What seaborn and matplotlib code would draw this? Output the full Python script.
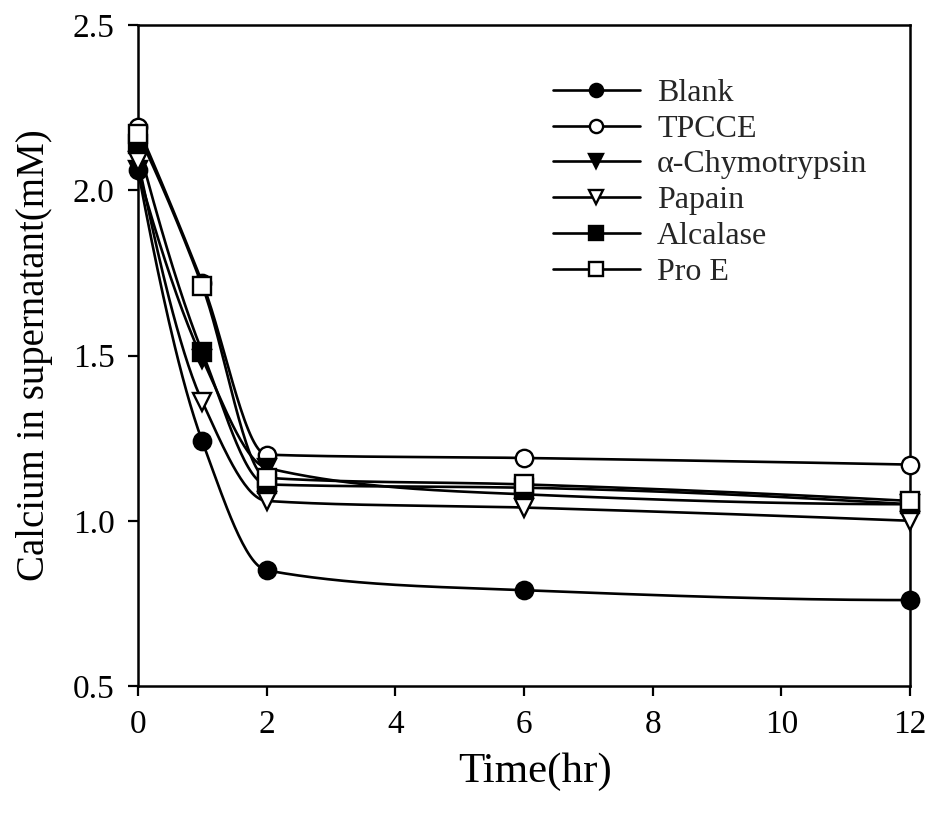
import numpy as np
import pandas as pd
import matplotlib
matplotlib.use("Agg")
import matplotlib.pyplot as plt
from matplotlib.lines import Line2D
import seaborn as sns

# Sampling times (hr)
time_hr = [0, 1, 2, 6, 12]

# Calcium remaining in supernatant (mM) for each treatment
blank = [2.06, 1.24, 0.85, 0.79, 0.76]
tpcce = [2.19, 1.72, 1.20, 1.19, 1.17]
chymotrypsin = [2.06, 1.49, 1.16, 1.08, 1.05]
papain = [2.09, 1.36, 1.06, 1.04, 1.00]
alcalase = [2.14, 1.51, 1.11, 1.10, 1.05]
pro_e = [2.17, 1.71, 1.13, 1.11, 1.06]

series_names = ["Blank", "TPCCE", "\u03b1-Chymotrypsin", "Papain", "Alcalase", "Pro E"]
series_values = [blank, tpcce, chymotrypsin, papain, alcalase, pro_e]
marker_shapes = ["o", "o", "v", "v", "s", "s"]
marker_filled = [True, False, True, False, True, False]

x_ticks = [0, 2, 4, 6, 8, 10, 12]
y_ticks = [0.5, 1.0, 1.5, 2.0, 2.5]


def smooth_curve(x, y, n=400):
    """Shape-preserving piecewise cubic (PCHIP) through (x, y) on a dense grid."""
    x = np.asarray(x, float)
    y = np.asarray(y, float)
    h = np.diff(x)
    delta = np.diff(y) / h
    k = len(x)
    d = np.zeros(k)
    for i in range(1, k - 1):
        if delta[i - 1] * delta[i] > 0:
            w1 = 2 * h[i] + h[i - 1]
            w2 = h[i] + 2 * h[i - 1]
            d[i] = (w1 + w2) / (w1 / delta[i - 1] + w2 / delta[i])
        else:
            d[i] = 0.0

    def end_slope(h0, h1, del0, del1):
        s = ((2 * h0 + h1) * del0 - h0 * del1) / (h0 + h1)
        if np.sign(s) != np.sign(del0):
            s = 0.0
        elif np.sign(del0) != np.sign(del1) and abs(s) > abs(3 * del0):
            s = 3 * del0
        return s

    d[0] = end_slope(h[0], h[1], delta[0], delta[1])
    d[-1] = end_slope(h[-1], h[-2], delta[-1], delta[-2])

    xs = np.linspace(x[0], x[-1], n)
    idx = np.clip(np.searchsorted(x, xs, side="right") - 1, 0, k - 2)
    t = (xs - x[idx]) / h[idx]
    h00 = 2 * t ** 3 - 3 * t ** 2 + 1
    h10 = t ** 3 - 2 * t ** 2 + t
    h01 = -2 * t ** 3 + 3 * t ** 2
    h11 = t ** 3 - t ** 2
    ys = (h00 * y[idx] + h10 * h[idx] * d[idx]
          + h01 * y[idx + 1] + h11 * h[idx] * d[idx + 1])
    return xs, ys


sns.set_theme(style="ticks")
plt.rcParams["font.family"] = ["Liberation Serif", "DejaVu Serif"]

fig = plt.figure(figsize=(9.3, 8.13), dpi=100)
ax = fig.add_axes([0.1484, 0.1562, 0.830, 0.813])

handles = []
for name, vals, mk, filled in zip(series_names, series_values, marker_shapes, marker_filled):
    xs, ys = smooth_curve(time_hr, vals)
    curve = pd.DataFrame({"t": xs, "c": ys})
    sns.lineplot(data=curve, x="t", y="c", ax=ax, color="black", linewidth=1.9,
                 estimator=None, sort=False, legend=False)
    pts = pd.DataFrame({"t": time_hr, "c": vals})
    face = "black" if filled else "white"
    ax.plot(pts["t"], pts["c"], linestyle="none", marker=mk, markersize=12.5,
            markerfacecolor=face, markeredgecolor="black", markeredgewidth=1.7,
            clip_on=False, zorder=3)
    handles.append(Line2D([], [], color="black", linewidth=1.9, marker=mk, markersize=9.5,
                          markerfacecolor=face, markeredgecolor="black",
                          markeredgewidth=1.7, label=name))

ax.set_xlim(0, 12)
ax.set_ylim(0.5, 2.5)
ax.set_xticks(x_ticks)
ax.set_yticks(y_ticks)
ax.set_xticklabels([str(t) for t in x_ticks])
ax.set_yticklabels([f"{v:.1f}" for v in y_ticks])
ax.tick_params(axis="both", direction="out", length=7, width=1.6, labelsize=24,
               pad=10, colors="black")

for side in ["left", "right", "top", "bottom"]:
    ax.spines[side].set_visible(True)
    ax.spines[side].set_color("black")
    ax.spines[side].set_linewidth(1.8)

ax.set_xlabel("Time(hr)", fontsize=31, color="black")
ax.xaxis.set_label_coords(0.514, -0.1)
ax.set_ylabel("Calcium in supernatant(mM)", fontsize=28, labelpad=14, color="black")

ax.legend(handles=handles, loc="upper left", bbox_to_anchor=(0.538, 0.919),
          frameon=False, fontsize=23, handlelength=2.7, handletextpad=0.55,
          labelspacing=0.2, borderpad=0, borderaxespad=0)

fig.savefig("out.png", dpi=100, facecolor="white")
